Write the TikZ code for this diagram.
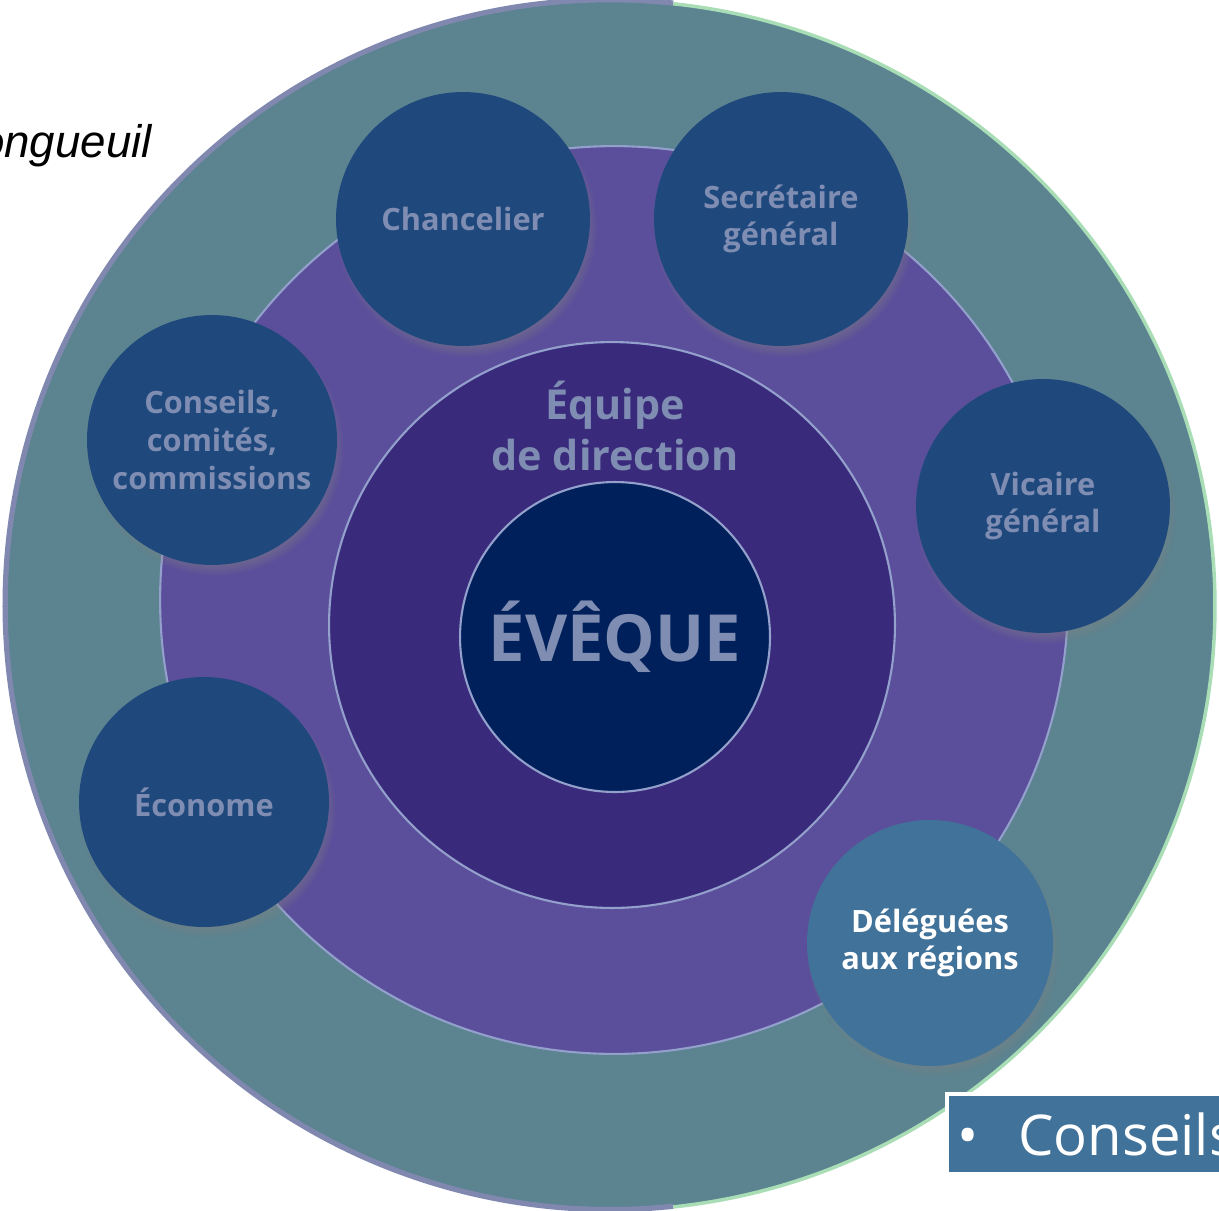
\documentclass[tikz,border=0pt]{standalone}
\usepackage{fontspec}
\setmainfont{Open Sans}
\newfontfamily\helv{Liberation Sans}
\usepackage{xcolor}
\usetikzlibrary{positioning,shadows}

\definecolor{outerteal}{HTML}{5B8390}
\definecolor{rimleft}{HTML}{8088B0}
\definecolor{rimright}{HTML}{A8DDB5}
\definecolor{ringpurple}{HTML}{5B4F9B}
\definecolor{corepurple}{HTML}{3A2A7C}
\definecolor{bishopnavy}{HTML}{00205B}
\definecolor{ringline}{HTML}{93A0CC}
\definecolor{memberblue}{HTML}{1F497D}
\definecolor{regionblue}{HTML}{41729A}
\definecolor{labelgray}{HTML}{7F8DB3}

\begin{document}
\begin{tikzpicture}[
  x=0.02cm, y=-0.02cm,
  ring/.style={circle, inner sep=0pt, draw=ringline, line width=1.2pt},
  member/.style={circle, fill=memberblue, minimum size=5.08cm, inner sep=0pt,
    align=center, text=labelgray, font=\fontsize{17.5}{21.5}\selectfont\bfseries,
    circular drop shadow={shadow xshift=0.06cm, shadow yshift=-0.14cm,
      shadow scale=1.03, opacity=0.7}},
  legendbox/.style={rectangle, draw=white, line width=2.5pt, fill=regionblue,
    minimum height=1.6cm, text width=8cm, inner xsep=0.2cm, align=left,
    text=white, font=\fontsize{32}{36}\selectfont},
]
  \useasboundingbox (0,0) rectangle (1219,1210);

  % Rings
  \node[circle, fill=outerteal, minimum size=24.2cm, inner sep=0pt] (outer) at (610,605) {};
  \draw[rimleft, line width=3pt] (outer.84) arc[start angle=84, end angle=276, radius=12.1cm];
  \draw[rimright, line width=2pt] (outer.-84) arc[start angle=-84, end angle=84, radius=12.1cm];
  \node[ring, fill=ringpurple, minimum size=18.16cm] (team) at (614,600) {};
  \node[ring, fill=corepurple, minimum size=11.32cm] (direction) at (612,625) {};
  \node[ring, fill=bishopnavy, minimum size=6.2cm, text=labelgray,
    font=\fontsize{37}{42}\selectfont\bfseries] (eveque) at (615,637) {ÉVÊQUE};
  \node[align=center, text=labelgray, font=\fontsize{23.5}{29}\selectfont\bfseries,
    above=0.08cm of eveque] (equipe) {Équipe\\de direction};

  % Members
  \node[member] (chancelier) at (463,219) {Chancelier};
  \node[member] (secretaire) at (781,219) {Secrétaire\\général};
  \node[member] (vicaire) at (1043,506) {Vicaire\\général};
  \node[member, minimum size=5cm] (conseils) at (212,440) {Conseils,\\comités,\\commissions};
  \node[member, minimum size=5cm] (econome) at (204,802) {Économe};
  \node[member, fill=regionblue, text=white, minimum size=4.92cm] (deleguees) at (930,943) {Déléguées\\aux régions};

  % Cut-off texts
  \node[anchor=base east, font=\helv\itshape\fontsize{26}{30}\selectfont] (ville) at (158,157) {ongueuil};
  \node[legendbox, anchor=north west] (legend) at (945,1092) {\textbullet\hspace{0.8cm}Conseils};
\end{tikzpicture}
\end{document}
